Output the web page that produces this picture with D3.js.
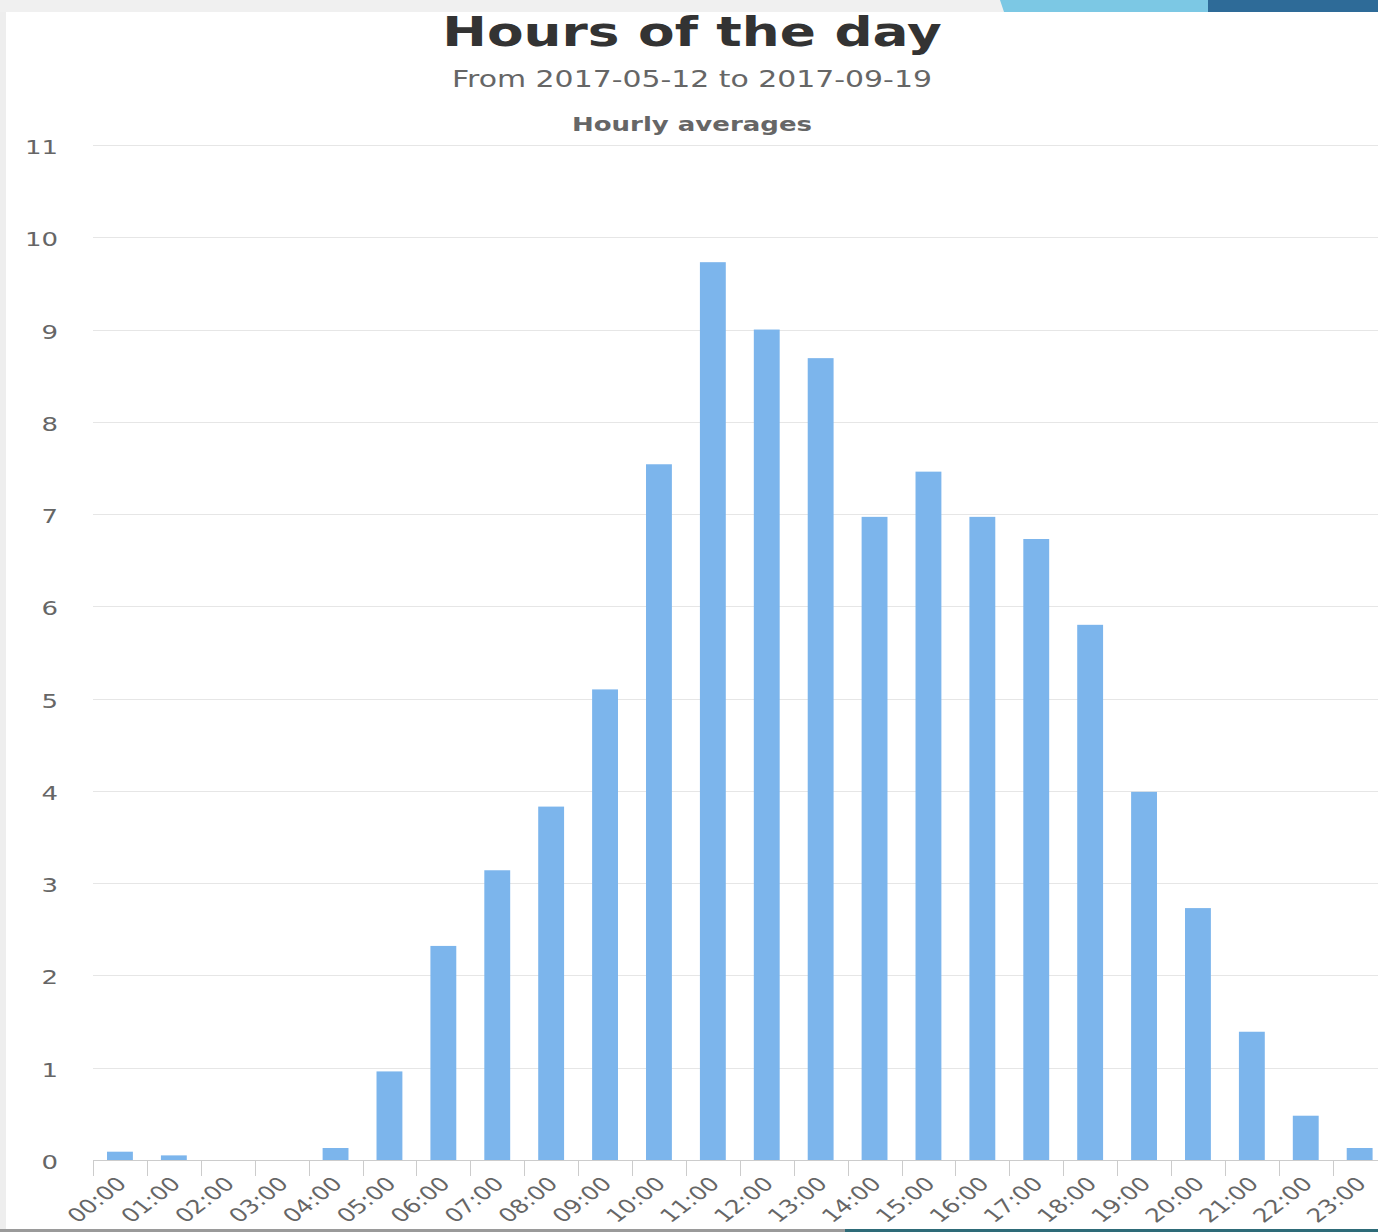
<!DOCTYPE html>
<meta charset="utf-8">
<script src="https://d3js.org/d3.v7.min.js"></script>
<style>
body { margin: 0; background: #fff; }
svg text { font-family: "DejaVu Sans", Verdana, sans-serif; }
.grid line { stroke: #e6e6e6; stroke-width: 1px; shape-rendering: crispEdges; }
.yaxis text { fill: #666; font-size: 20px; }
.xaxis text { fill: #666; font-size: 19px; }
</style>
<div id="plot"></div>
<script>
	// hours on the x axis
	var hours = ["00:00", "01:00", "02:00", "03:00", "04:00", "05:00", "06:00", "07:00",
		"08:00", "09:00", "10:00", "11:00", "12:00", "13:00", "14:00", "15:00",
		"16:00", "17:00", "18:00", "19:00", "20:00", "21:00", "22:00", "23:00"];

	// hourly averages
	var averages = [0.09, 0.05, 0, 0, 0.13, 0.96, 2.32, 3.14, 3.83, 5.10, 7.54, 9.73,
		9.0, 8.69, 6.97, 7.46, 6.97, 6.73, 5.80, 3.99, 2.73, 1.39, 0.48, 0.13];

	var yTicks = [0, 1, 2, 3, 4, 5, 6, 7, 8, 9, 10, 11];

	var W = 1378, H = 1232;
	var plotLeft = 93, plotTop = 145, plotBottom = 1160;
	var step = 53.9;
	var stretch = 1.3; // the screenshot is wider than it is tall

	var svg = d3.select("#plot").append("svg")
		.attr("width", W)
		.attr("height", H);

	var x = d3.scaleBand()
		.domain(hours)
		.range([plotLeft, plotLeft + step * hours.length])
		.padding(0);

	var y = d3.scaleLinear()
		.domain([0, 11])
		.range([plotBottom, plotTop]);

	// grid lines
	svg.append("g")
		.attr("class", "grid")
		.selectAll("line")
		.data(yTicks.slice(1))
		.enter().append("line")
			.attr("x1", plotLeft)
			.attr("x2", W)
			.attr("y1", function(d) { return Math.round(y(d)) + 0.5; })
			.attr("y2", function(d) { return Math.round(y(d)) + 0.5; });

	// y labels
	svg.append("g")
		.attr("class", "yaxis")
		.selectAll("text")
		.data(yTicks)
		.enter().append("text")
			.attr("transform", function(d) { return "translate(58," + y(d) + ") scale(" + stretch + ",1)"; })
			.attr("dy", "0.45em")
			.style("text-anchor", "end")
			.text(function(d) { return d; });

	// bars
	var bw = x.bandwidth() * 0.48;
	svg.append("g")
		.selectAll("rect")
		.data(averages)
		.enter().append("rect")
			.attr("x", function(d, i) { return x(hours[i]) + (x.bandwidth() - bw) / 2; })
			.attr("y", function(d) { return y(d); })
			.attr("width", bw)
			.attr("height", function(d) { return y(0) - y(d); })
			.attr("fill", "#7cb5ec");

	// x axis with ticks between categories
	var xg = svg.append("g").attr("class", "xaxis");
	xg.append("line")
		.attr("x1", plotLeft).attr("x2", W)
		.attr("y1", plotBottom + 0.5).attr("y2", plotBottom + 0.5)
		.attr("stroke", "#cccccc");
	xg.selectAll(".tick")
		.data(hours)
		.enter().append("line")
			.attr("class", "tick")
			.attr("x1", function(d) { return Math.round(x(d)) + 0.5; })
			.attr("x2", function(d) { return Math.round(x(d)) + 0.5; })
			.attr("y1", plotBottom)
			.attr("y2", plotBottom + 16)
			.attr("stroke", "#cccccc");
	xg.selectAll("text")
		.data(hours)
		.enter().append("text")
			.attr("transform", function(d) {
				return "translate(" + (x(d) + x.bandwidth() / 2 + 8) + "," + (plotBottom + 25) + ") scale(" + stretch + ",1) rotate(-45)";
			})
			.style("text-anchor", "end")
			.text(function(d) { return d; });

	// titles
	function title(txt, yy, size, weight, color) {
		svg.append("text")
			.attr("transform", "translate(692," + yy + ") scale(" + stretch + ",1)")
			.style("text-anchor", "middle")
			.style("font-size", size + "px")
			.style("font-weight", weight)
			.attr("fill", color)
			.text(txt);
	}
	title("Hours of the day", 46, 41, "bold", "#333");
	title("From 2017-05-12 to 2017-09-19", 87, 23, "normal", "#666");
	title("Hourly averages", 131, 20, "bold", "#666");

	// slide frame around the screenshot
	svg.append("rect").attr("x", 0).attr("y", 0).attr("width", 6).attr("height", H).attr("fill", "#eeeeee");
	svg.append("rect").attr("x", 0).attr("y", 0).attr("width", W).attr("height", 12).attr("fill", "#f0f0f0");
	svg.append("polygon").attr("points", "1000,0 1208,0 1208,12 1004,12").attr("fill", "#7cc8e4");
	svg.append("rect").attr("x", 1208).attr("y", 0).attr("width", 170).attr("height", 12).attr("fill", "#2e6b98");
	svg.append("rect").attr("x", 0).attr("y", 1229).attr("width", W).attr("height", 3).attr("fill", "#9a9a9a");
	svg.append("rect").attr("x", 845).attr("y", 1229).attr("width", 533).attr("height", 3).attr("fill", "#2e6b78");
</script>
